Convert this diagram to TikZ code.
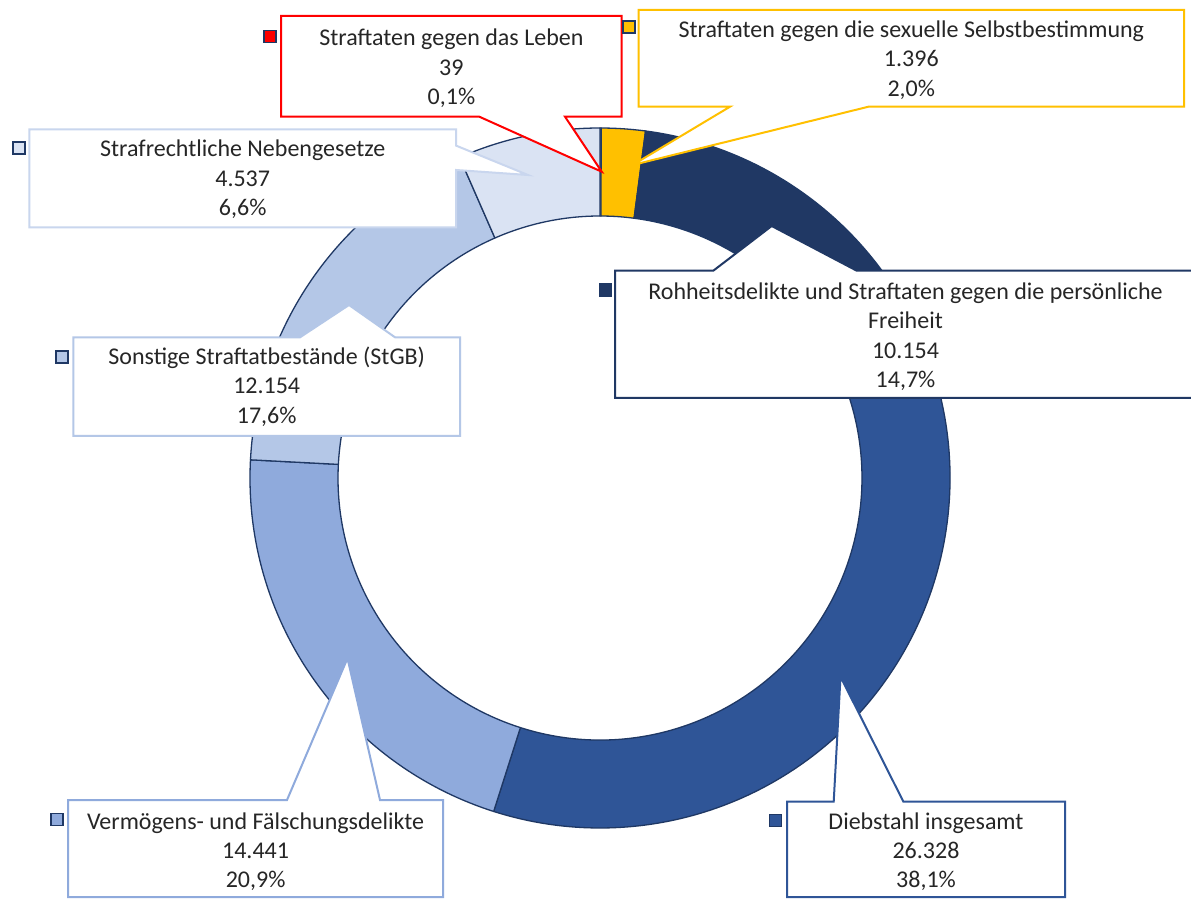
\documentclass[tikz,border=0pt]{standalone}
\usepackage{fontspec}
\setmainfont{Carlito}
\usetikzlibrary{calc}
\definecolor{cLeben}{HTML}{FF0000}
\definecolor{cSex}{HTML}{FFC000}
\definecolor{cRoh}{HTML}{203864}
\definecolor{cDieb}{HTML}{2F5597}
\definecolor{cVerm}{HTML}{8FAADC}
\definecolor{cSonst}{HTML}{B4C7E7}
\definecolor{cNeben}{HTML}{DAE3F3}
\definecolor{cNebenB}{HTML}{C9D6EE}
\definecolor{edgecol}{HTML}{1F3864}
\definecolor{txt}{HTML}{262626}
\newcommand\ringslice[3]{%
  \filldraw[slice, fill=#3] ([shift={(#1:350)}]600,420) arc[start angle=#1, end angle=#2, radius=350]
    -- ([shift={(#2:262)}]600,420) arc[start angle=#2, end angle=#1, radius=262] -- cycle;}
\tikzset{
  slice/.style={draw=edgecol, line width=1.3pt, line join=round},
  callout/.style={fill=white, line width=2pt, line join=miter},
  lbl/.style={align=center, inner sep=0pt, text=txt, font=\fontsize{24}{29.3}\selectfont},
  legsq/.style={draw=edgecol, line width=1.6pt, minimum size=12pt, inner sep=0pt},
}
\begin{document}
\begin{tikzpicture}[x=1pt, y=1pt]
\path[use as bounding box] (0,0) rectangle (1191,898);
\clip (0,0) rectangle (1191,898);
\fill[white] (0,0) rectangle (1191,898);
% ring
\ringslice{90}{89.797}{cLeben}
\ringslice{89.797}{82.52}{cSex}
\ringslice{82.52}{29.58}{cRoh}
\ringslice{29.58}{-107.69}{cDieb}
\ringslice{-107.69}{-182.98}{cVerm}
\ringslice{-182.98}{-246.35}{cSonst}
\ringslice{-246.35}{-270}{cNeben}
% callouts
\draw[callout, draw=cNebenB] (29.3,768.7) -- (456,768.7) -- (456,752.4) -- (528,723) -- (456,728) -- (456,670.7) -- (29.3,670.7) -- cycle;
\draw[callout, draw=cSonst] (73.3,560.7) -- (300,560.7) -- (349,593) -- (395,560.7) -- (460,560.7) -- (460,462) -- (73.3,462) -- cycle;
\draw[callout, draw=cVerm] (68.2,98) -- (287,98) -- (347.5,239.7) -- (380,98) -- (443,98) -- (443,1) -- (68.2,1) -- cycle;
\draw[callout, draw=cDieb] (787,96.3) -- (833.7,96.3) -- (840.5,221.3) -- (903.4,96.3) -- (1065,96.3) -- (1065,1) -- (787,1) -- cycle;
\draw[callout, draw=cRoh] (615,627.3) -- (713.3,627.3) -- (771.7,672) -- (856.7,627.3) -- (1205,627.3) -- (1205,500) -- (615,500) -- cycle;
\draw[callout, draw=cSex] (638.5,888) -- (1184,888) -- (1184,791.3) -- (868.5,791.3) -- (632.6,733) -- (730,791.3) -- (638.5,791.3) -- cycle;
\draw[callout, draw=cLeben] (281,882) -- (621.7,882) -- (621.7,781.3) -- (565,781.3) -- (601.7,726.3) -- (479.3,781.3) -- (281,781.3) -- cycle;
% labels
\node[lbl] (tLeben) at (451.4,829.7) {Straftaten gegen das Leben\\39\\0,1\%};
\node[lbl] (tSex) at (911.3,838) {Straftaten gegen die sexuelle Selbstbestimmung\\1.396\\2,0\%};
\node[lbl] (tNeben) at (242.7,718.7) {Strafrechtliche Nebengesetze\\4.537\\6,6\%};
\node[lbl] (tSonst) at (266.7,511.3) {Sonstige Straftatbestände (StGB)\\12.154\\17,6\%};
\node[lbl] (tRoh) at (905.5,561.3) {Rohheitsdelikte und Straftaten gegen die persönliche\\Freiheit\\10.154\\14,7\%};
\node[lbl] (tVerm) at (255.6,46.3) {Vermögens- und Fälschungsdelikte\\14.441\\20,9\%};
\node[lbl] (tDieb) at (926,46.3) {Diebstahl insgesamt\\26.328\\38,1\%};
% legend squares
\node[legsq, fill=cLeben] (qLeben) at (269.7,861.3) {};
\node[legsq, fill=cSex] (qSex) at (629,870.7) {};
\node[legsq, fill=cNeben] (qNeben) at (18.9,749.7) {};
\node[legsq, fill=cSonst] (qSonst) at (62,541) {};
\node[legsq, fill=cRoh] (qRoh) at (605.3,608) {};
\node[legsq, fill=cVerm] (qVerm) at (57,78.5) {};
\node[legsq, fill=cDieb] (qDieb) at (775.3,77.5) {};
\end{tikzpicture}
\end{document}
